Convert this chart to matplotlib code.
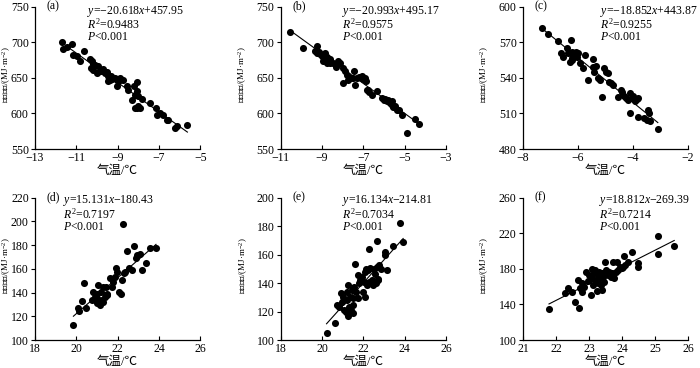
import numpy as np
import matplotlib
matplotlib.use("Agg")
import matplotlib.pyplot as plt

plt.rcParams['font.family'] = ['Liberation Serif', 'Noto Sans CJK SC']
plt.rcParams['mathtext.fontset'] = 'custom'
plt.rcParams['mathtext.rm'] = 'Liberation Serif'
plt.rcParams['mathtext.it'] = 'Liberation Serif:italic'
plt.rcParams['axes.unicode_minus'] = True

# (a) 供暖
xa = [-11.71, -11.66, -11.43, -11.22, -11.14, -10.98, -10.82, -10.63, -10.33, -10.25,
      -10.30, -10.17, -10.09, -9.93, -9.85, -10.01, -9.77, -9.61, -9.53, -9.45,
      -9.45, -9.37, -9.28, -9.12, -9.04, -9.01, -8.88, -8.72, -8.56, -8.48,
      -8.32, -8.23, -8.15, -8.07, -8.04, -8.15, -8.07, -7.99, -7.91, -7.99,
      -7.83, -7.43, -7.14, -7.10, -6.94, -6.81, -6.62, -6.54, -6.21, -6.13,
      -5.62, -9.70, -9.30, -8.90, -10.20]
ya = [700.0, 690.2, 694.0, 697.7, 682.3, 680.0, 674.3, 687.0, 676.2, 673.0,
      663.6, 661.3, 668.3, 666.0, 659.0, 656.6, 659.0, 656.6, 657.5, 651.9,
      645.0, 647.3, 648.2, 649.6, 647.3, 638.0, 647.3, 646.3, 638.0, 632.3,
      618.3, 638.0, 626.2, 643.5, 630.9, 607.6, 607.6, 609.9, 607.6, 624.8,
      620.2, 614.6, 607.6, 598.2, 600.6, 598.2, 591.2, 590.3, 579.5, 582.8,
      584.2, 662.0, 652.0, 650.0, 670.0]

# (b) 供暖
xb = [-10.55, -9.93, -9.22, -9.34, -9.26, -9.13, -9.01, -8.85, -8.77, -8.93,
      -8.77, -8.61, -8.45, -8.32, -8.21, -8.12, -7.96, -7.88, -7.80, -7.72,
      -7.61, -7.99, -7.45, -7.40, -7.32, -7.19, -7.07, -7.03, -6.91, -6.86,
      -6.83, -6.75, -6.59, -6.32, -6.11, -6.02, -5.94, -5.86, -5.78, -5.70,
      -5.62, -5.54, -5.46, -5.38, -5.25, -5.14, -4.89, -4.49, -4.28, -9.10,
      -8.60, -7.50, -6.70, -5.60]
yb = [714.0, 691.6, 695.4, 687.0, 684.6, 686.0, 680.9, 684.6, 679.0, 673.0,
      670.6, 671.5, 670.6, 665.9, 673.0, 671.5, 663.6, 658.9, 654.3, 647.3,
      649.6, 642.6, 658.9, 640.3, 649.6, 651.0, 651.9, 648.2, 649.6, 644.9,
      633.3, 633.3, 626.2, 631.9, 621.6, 619.2, 620.2, 616.9, 619.2, 614.6,
      612.3, 609.0, 610.8, 605.2, 604.3, 598.2, 572.5, 592.6, 585.6, 683.0,
      676.0, 650.0, 630.0, 617.0]

# (c) 供暖
xc = [-7.30, -7.10, -6.72, -6.25, -6.62, -6.53, -6.41, -6.35, -6.29, -6.23,
      -6.13, -6.08, -6.05, -5.99, -6.23, -6.21, -5.93, -5.81, -5.75, -5.62,
      -5.44, -5.44, -5.36, -5.41, -5.26, -5.20, -5.12, -5.04, -4.99, -4.92,
      -4.87, -4.80, -4.72, -4.53, -4.44, -4.39, -4.32, -4.27, -4.19, -4.11,
      -4.05, -3.99, -3.93, -3.87, -3.83, -4.11, -3.83, -3.59, -3.50, -3.44,
      -3.42, -3.38, -3.10]
yc = [581.8, 577.0, 571.4, 572.0, 560.7, 557.9, 565.0, 560.7, 553.7, 562.1,
      559.3, 562.1, 557.9, 560.7, 556.5, 555.1, 552.3, 548.1, 559.3, 538.3,
      555.7, 549.5, 550.1, 545.3, 539.7, 537.8, 523.7, 548.1, 545.3, 543.9,
      536.9, 535.5, 534.1, 523.7, 529.9, 527.7, 524.9, 522.9, 521.5, 527.1,
      522.9, 524.3, 520.1, 522.0, 522.9, 510.3, 506.9, 506.1, 504.7, 513.1,
      510.3, 503.3, 497.1]

# (d) 制冷
xd = [19.86, 20.10, 20.15, 20.26, 20.37, 20.47, 20.75, 20.83, 20.91, 20.99,
      21.02, 21.07, 21.12, 21.15, 21.18, 21.23, 21.28, 21.31, 21.39, 21.44,
      21.47, 21.51, 21.63, 21.72, 21.80, 21.88, 21.93, 21.99, 22.09, 22.15,
      22.20, 22.28, 22.31, 22.36, 22.47, 22.57, 22.68, 22.77, 22.90, 22.96,
      23.09, 23.17, 23.38, 23.57, 23.86]
yd = [112.6, 126.6, 124.4, 132.8, 147.7, 126.6, 133.6, 140.1, 136.4, 139.2,
      130.8, 146.3, 133.6, 129.4, 140.6, 133.6, 132.2, 144.9, 136.4, 144.9,
      139.2, 137.8, 151.9, 144.9, 149.1, 153.3, 160.3, 157.5, 140.6, 139.2,
      150.5, 198.1, 156.1, 157.5, 174.9, 160.3, 158.9, 179.3, 168.7, 171.5,
      172.9, 158.9, 164.5, 177.9, 177.9]

# (e) 制冷
xe = [20.22, 20.61, 20.71, 20.82, 20.91, 20.99, 21.04, 21.07, 21.15, 21.20,
      21.23, 21.27, 21.31, 21.36, 21.43, 21.48, 21.48, 21.53, 21.59, 21.64,
      21.72, 21.76, 21.80, 21.85, 21.92, 21.97, 22.02, 22.08, 22.13, 22.18,
      22.21, 22.29, 22.34, 22.41, 22.46, 22.54, 22.57, 22.62, 22.70, 22.73,
      22.67, 22.78, 22.08, 22.29, 22.67, 22.87, 23.03, 23.06, 23.16, 23.44,
      23.76, 23.93, 21.25, 21.40, 21.50]
ye = [105.2, 111.7, 124.5, 123.4, 132.7, 126.9, 130.4, 121.0, 119.9, 133.9,
      128.1, 138.6, 123.4, 130.4, 135.1, 129.2, 124.5, 137.4, 153.7, 133.9,
      129.2, 145.6, 139.7, 142.1, 144.4, 133.9, 140.9, 147.9, 150.2, 138.6,
      149.1, 140.9, 150.7, 142.1, 138.6, 150.2, 146.7, 139.7, 142.1, 143.2,
      151.4, 153.0, 130.4, 163.8, 169.4, 150.2, 159.6, 161.9, 149.1, 166.1,
      182.5, 168.9, 117.0, 121.0, 119.0]

# (f) 制冷
xf = [21.79, 22.27, 22.37, 22.49, 22.58, 22.66, 22.70, 22.73, 22.78, 22.80,
      22.86, 22.90, 22.96, 23.00, 23.06, 23.08, 23.10, 23.13, 23.16, 23.18,
      23.20, 23.23, 23.26, 23.28, 23.30, 23.33, 23.36, 23.38, 23.40, 23.43,
      23.46, 23.48, 23.51, 23.57, 23.61, 23.67, 23.71, 23.74, 23.77, 23.81,
      23.84, 23.89, 23.94, 23.99, 24.04, 24.09, 24.17, 24.07, 24.29, 24.47,
      24.49, 25.10, 25.10, 25.58]
yf = [134.4, 152.3, 158.7, 153.5, 143.0, 167.3, 135.5, 158.0, 163.6, 153.5,
      159.8, 176.6, 166.2, 172.9, 150.5, 179.6, 169.2, 161.7, 174.8, 178.5,
      167.3, 155.0, 172.9, 163.6, 176.6, 169.2, 161.7, 174.8, 156.1, 171.0,
      165.4, 187.9, 178.5, 172.9, 176.6, 171.0, 174.8, 187.9, 169.9, 176.6,
      187.9, 178.5, 182.2, 180.4, 182.2, 184.1, 187.9, 194.6, 199.1, 187.1,
      182.2, 216.6, 197.2, 205.8]

panels = ['(a)', '(b)', '(c)', '(d)', '(e)', '(f)']
slopes = [-20.618, -20.993, -18.852, 15.131, 16.134, 18.812]
intercepts = [457.95, 495.17, 443.87, -180.43, -214.81, -269.39]
r2 = ['0.9483', '0.9575', '0.9255', '0.7197', '0.7034', '0.7214']
xs = [xa, xb, xc, xd, xe, xf]
ys = [ya, yb, yc, yd, ye, yf]
xlims = [(-13, -5), (-11, -3), (-8, -2), (18, 26), (18, 26), (21, 26)]
ylims = [(550, 750), (550, 750), (480, 600), (100, 220), (100, 200), (100, 260)]
xstep = [2, 2, 2, 2, 2, 1]
ystep = [50, 50, 30, 20, 20, 40]
ylabels = ['供暖能耗/(MJ·m$^{-2}$)'] * 3 + ['制冷能耗/(MJ·m$^{-2}$)'] * 3
text_x = [0.315, 0.37, 0.467, 0.17, 0.37, 0.46]
ylabel_x = [-0.133, -0.19, -0.195, -0.133, -0.188, -0.195]

fig = plt.figure(figsize=(7, 3.68), dpi=100)
lefts = [0.05, 0.401, 0.747]
bottoms = [0.595, 0.076]

for i in range(6):
    ax = fig.add_axes([lefts[i % 3], bottoms[i // 3], 0.236, 0.387])
    ax.scatter(xs[i], ys[i], s=26, color='black', zorder=3, linewidths=0)
    lx = np.array([min(xs[i]), max(xs[i])])
    ax.plot(lx, slopes[i] * lx + intercepts[i], color='black', lw=0.8, zorder=4)
    ax.set_xlim(*xlims[i])
    ax.set_ylim(*ylims[i])
    ax.set_xticks(np.arange(xlims[i][0], xlims[i][1] + 0.1, xstep[i]))
    ax.set_yticks(np.arange(ylims[i][0], ylims[i][1] + 0.1, ystep[i]))
    for s in ['top', 'right']:
        ax.spines[s].set_visible(False)
    for s in ['left', 'bottom']:
        ax.spines[s].set_linewidth(0.9)
    ax.tick_params(axis='x', direction='in', length=3, labelsize=8.5, pad=2)
    ax.tick_params(axis='y', direction='out', length=3, labelsize=8.5, pad=1.5)
    ax.set_xlabel('气温/℃', fontsize=9, labelpad=1)
    ax.set_ylabel(ylabels[i], fontsize=6.5)
    ax.yaxis.set_label_coords(ylabel_x[i], 0.52)
    ax.text(0.07, 1.0, panels[i], transform=ax.transAxes, fontsize=8.5, va='center')
    ty = [0.968, 0.873, 0.785] if i < 3 else [0.98, 0.885, 0.794]
    sign = '+' if intercepts[i] >= 0 else '−'
    eq = '$y$=%s$x$%s%.2f' % (('%.3f' % slopes[i]).replace('-', '−'), sign, abs(intercepts[i]))
    ax.text(text_x[i], ty[0], eq, transform=ax.transAxes, fontsize=8.5, va='center')
    ax.text(text_x[i], ty[1], '$R^2$=' + r2[i], transform=ax.transAxes, fontsize=8.5, va='center')
    ax.text(text_x[i], ty[2], '$P$<0.001', transform=ax.transAxes, fontsize=8.5, va='center')

fig.savefig('out.png', dpi=100)
